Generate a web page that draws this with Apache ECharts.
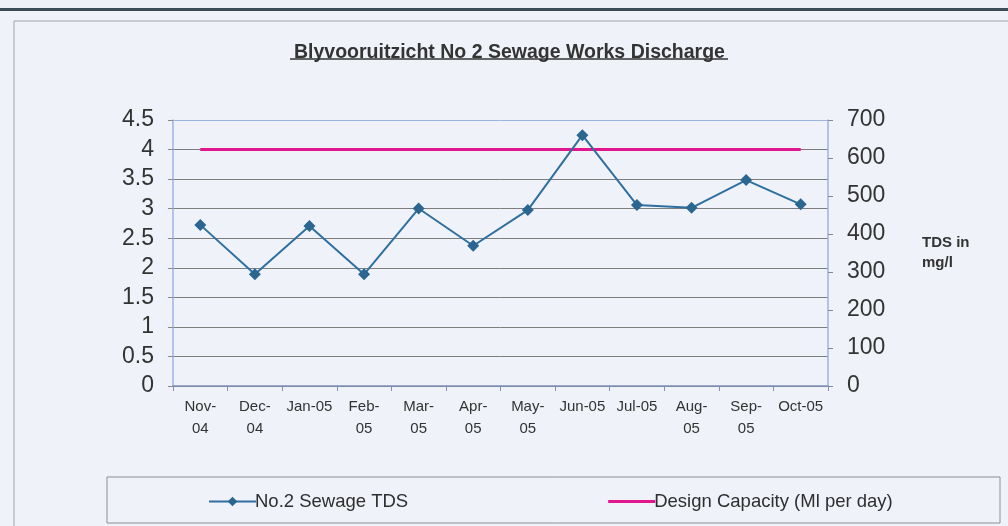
<!DOCTYPE html>
<html>
<head>
<meta charset="utf-8">
<script src="https://cdn.jsdelivr.net/npm/echarts@6/dist/echarts.min.js"></script>
<style>
html,body{margin:0;padding:0;background:#eff2f9;}
#c{width:1008px;height:526px;}
</style>
</head>
<body>
<div id="c"></div>
<script>
// Data
var categories = ['Nov-\n04','Dec-\n04','Jan-05','Feb-\n05','Mar-\n05','Apr-\n05','May-\n05','Jun-05','Jul-05','Aug-\n05','Sep-\n05','Oct-05'];
var tdsValues = [424, 294, 421, 294, 467, 369, 463, 660, 476, 469, 542, 478];
var designCapacity = [4, 4, 4, 4, 4, 4, 4, 4, 4, 4, 4, 4];
var seriesNames = ['No.2 Sewage TDS', 'Design Capacity (Ml per day)'];
var chartTitle = 'Blyvooruitzicht No 2 Sewage Works Discharge';
var rightAxisName = 'TDS in\nmg/l';

var FONT = '"Liberation Sans", Arial, sans-serif';
var chart = echarts.init(document.getElementById('c'), null, {renderer: 'canvas'});
var gridColors = ['#7d7d7d','#7d7d7d','#7d7d7d','#7d7d7d','#7d7d7d','#7d7d7d','#7d7d7d','#7d7d7d','#7d7d7d','#9db3e0'];
chart.setOption({
  backgroundColor: '#eff2f9',
  animation: false,
  title: {
    text: chartTitle,
    left: 289,
    top: 38,
    textStyle: {fontFamily: FONT, fontSize: 19.5, fontWeight: 'bold', color: '#333'}
  },
  graphic: [
    {type: 'rect', shape: {x: 0, y: 8, width: 1008, height: 3}, style: {fill: '#3d4e59'}},
    {type: 'rect', shape: {x: 14, y: 21, width: 1010, height: 520}, style: {fill: 'none', stroke: '#a0a4aa', lineWidth: 1}},
    {type: 'line', shape: {x1: 290, y1: 59, x2: 728, y2: 59}, style: {stroke: '#333', lineWidth: 1.5}},
    {type: 'rect', shape: {x: 107, y: 477, width: 893, height: 46}, style: {fill: 'none', stroke: '#8a8f96', lineWidth: 1}}
  ],
  legend: {
    left: 203,
    top: 487,
    itemGap: 200,
    itemWidth: 47,
    itemHeight: 12,
    textStyle: {fontFamily: FONT, fontSize: 18.5, color: '#2e2e2e', padding: [0,0,0,-6]},
    data: [
      {name: seriesNames[0]},
      {name: seriesNames[1], icon: 'path://M0,0 L47,0 L47,3 L0,3 Z'}
    ]
  },
  grid: {left: 173, right: 180, top: 120, bottom: 140, containLabel: false},
  xAxis: {
    type: 'category',
    data: categories,
    boundaryGap: true,
    axisLine: {lineStyle: {color: '#8090b8', width: 1.5}},
    axisTick: {show: true, length: 5, lineStyle: {color: '#8090b8'}},
    axisLabel: {fontFamily: FONT, fontSize: 15, color: '#333', lineHeight: 22, margin: 10, interval: 0}
  },
  yAxis: [
    {
      type: 'value', min: 0, max: 4.5, interval: 0.5, position: 'left',
      axisLine: {show: true, lineStyle: {color: '#9db3e0', width: 1.5}},
      axisTick: {show: true, length: 5, lineStyle: {color: '#888'}},
      axisLabel: {fontFamily: FONT, fontSize: 23, color: '#333', margin: 19},
      splitLine: {show: true, lineStyle: {color: gridColors, width: 1}}
    },
    {
      type: 'value', min: 0, max: 700, interval: 100, position: 'right',
      name: rightAxisName,
      nameLocation: 'middle',
      nameRotate: 0,
      nameGap: 94,
      nameTextStyle: {fontFamily: FONT, fontSize: 15, fontWeight: 'bold', color: '#333', align: 'left', lineHeight: 20},
      axisLine: {show: true, lineStyle: {color: '#9db3e0', width: 1.5}},
      axisTick: {show: true, length: 5, lineStyle: {color: '#888'}},
      axisLabel: {fontFamily: FONT, fontSize: 23, color: '#333', margin: 19},
      splitLine: {show: false}
    }
  ],
  series: [
    {
      name: seriesNames[0], type: 'line', yAxisIndex: 1, data: tdsValues,
      symbol: 'diamond', symbolSize: 12,
      lineStyle: {color: '#2f6f9f', width: 2},
      itemStyle: {color: '#2a6690'},
      z: 3
    },
    {
      name: seriesNames[1], type: 'line', yAxisIndex: 0, data: designCapacity,
      symbol: 'none', showSymbol: false,
      lineStyle: {color: '#e3158c', width: 3},
      itemStyle: {color: '#e3158c'},
      z: 2
    }
  ]
});
</script>
</body>
</html>
